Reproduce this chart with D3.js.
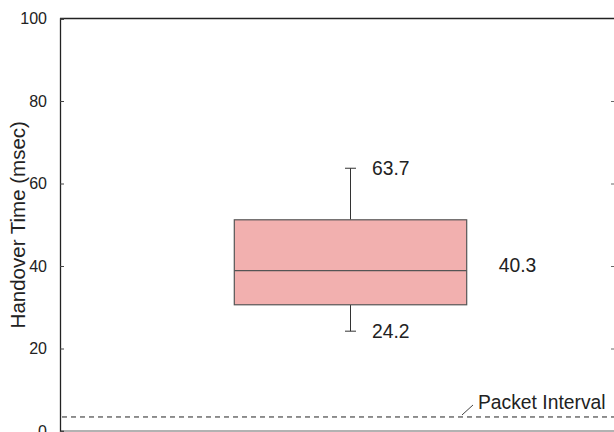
<!DOCTYPE html>
<html>
<head>
<meta charset="utf-8">
<script src="https://cdn.jsdelivr.net/npm/d3@7"></script>
<style>
	body { margin: 0; background: #fff; }
	text { font-family: "Liberation Sans", Arial, sans-serif; fill: #222; }
</style>
</head>
<body>
<div id="chart"></div>
<script>
// box statistics (msec)
const statNames = ["whiskerLow", "q1", "median", "q3", "whiskerHigh"];
const statValues = [24.2, 30.6, 38.9, 51.2, 63.7];
const meanValue = 40.3;
const packetInterval = 3.4;
const yTicks = [0, 20, 40, 60, 80, 100];
const labelValues = [63.7, 24.2];

const width = 614;
const height = 432;
const margin = { top: 18.5, right: -1, bottom: 1, left: 60 };

const svg = d3
	.select("#chart")
	.append("svg")
	.attr("width", width)
	.attr("height", height);

const stat = {};
statNames.forEach((n, i) => (stat[n] = statValues[i]));

// scales
const yScale = d3
	.scaleLinear()
	.domain([0, 100])
	.range([height - margin.bottom, margin.top]);

const xScale = d3.scaleLinear().domain([0, 2]).range([margin.left, 641]);
const frameRight = width - margin.right;

// frame
svg.append("line")
	.attr("x1", margin.left).attr("x2", frameRight)
	.attr("y1", yScale(100)).attr("y2", yScale(100))
	.attr("stroke", "#222").attr("stroke-width", 1.3);
svg.append("line")
	.attr("x1", margin.left).attr("x2", frameRight)
	.attr("y1", yScale(0)).attr("y2", yScale(0))
	.attr("stroke", "#999").attr("stroke-width", 1.3);

// axes
const yAxis = d3.axisLeft(yScale).tickValues(yTicks).tickSize(-4).tickPadding(13);
const gy = svg.append("g")
	.attr("transform", `translate(${margin.left}, 0)`)
	.call(yAxis);
gy.select(".domain").attr("stroke", "#222").attr("stroke-width", 1.3);
gy.selectAll(".tick line").attr("stroke", "#444");
gy.selectAll(".tick text")
	.style("font-size", "16px")
	.attr("fill", "#222");

const yAxisRight = d3.axisRight(yScale).tickValues(yTicks.slice(1, 5)).tickSize(-4).tickFormat("");
const gyr = svg.append("g")
	.attr("transform", `translate(${frameRight}, 0)`)
	.call(yAxisRight);
gyr.select(".domain").remove();
gyr.selectAll(".tick line").attr("stroke", "#666");

// axis label
svg.append("text")
	.attr("transform", "rotate(-90)")
	.attr("x", -(yScale(0) + yScale(100)) / 2)
	.attr("y", 25)
	.attr("text-anchor", "middle")
	.style("font-size", "20.5px")
	.text("Handover Time (msec)");

// packet interval line
svg.append("line")
	.attr("x1", margin.left + 2).attr("x2", frameRight)
	.attr("y1", yScale(packetInterval)).attr("y2", yScale(packetInterval))
	.attr("stroke", "#222").attr("stroke-dasharray", "5,4");
svg.append("line")
	.attr("x1", 462).attr("y1", yScale(packetInterval) - 2)
	.attr("x2", 473).attr("y2", yScale(packetInterval) - 12)
	.attr("stroke", "#444");
svg.append("text")
	.attr("x", 478)
	.attr("y", yScale(packetInterval) - 8)
	.style("font-size", "19.3px")
	.text("Packet Interval");

// box plot
const cx = xScale(1);
const boxW = xScale(0.8) - xScale(0);
const capW = 11;

svg.append("line")
	.attr("x1", cx).attr("x2", cx)
	.attr("y1", yScale(stat.whiskerHigh)).attr("y2", yScale(stat.q3))
	.attr("stroke", "#333");
svg.append("line")
	.attr("x1", cx).attr("x2", cx)
	.attr("y1", yScale(stat.q1)).attr("y2", yScale(stat.whiskerLow))
	.attr("stroke", "#333");
[stat.whiskerHigh, stat.whiskerLow].forEach((v) => {
	svg.append("line")
		.attr("x1", cx - capW / 2).attr("x2", cx + capW / 2)
		.attr("y1", yScale(v)).attr("y2", yScale(v))
		.attr("stroke", "#333");
});

svg.append("rect")
	.attr("x", cx - boxW / 2)
	.attr("y", yScale(stat.q3))
	.attr("width", boxW)
	.attr("height", yScale(stat.q1) - yScale(stat.q3))
	.attr("fill", "#f2b0af")
	.attr("stroke", "#555")
	.attr("stroke-width", 1.2);

svg.append("line")
	.attr("x1", cx - boxW / 2).attr("x2", cx + boxW / 2)
	.attr("y1", yScale(stat.median)).attr("y2", yScale(stat.median))
	.attr("stroke", "#555").attr("stroke-width", 1.2);

// value labels
labelValues.forEach((v) => {
	svg.append("text")
		.attr("x", cx + 21.5)
		.attr("y", yScale(v))
		.attr("dy", "0.36em")
		.style("font-size", "19.3px")
		.text(v.toFixed(1));
});
svg.append("text")
	.attr("x", cx + boxW / 2 + 32)
	.attr("y", yScale(meanValue))
	.attr("dy", "0.4em")
	.style("font-size", "19.3px")
	.text(meanValue.toFixed(1));
</script>
</body>
</html>
